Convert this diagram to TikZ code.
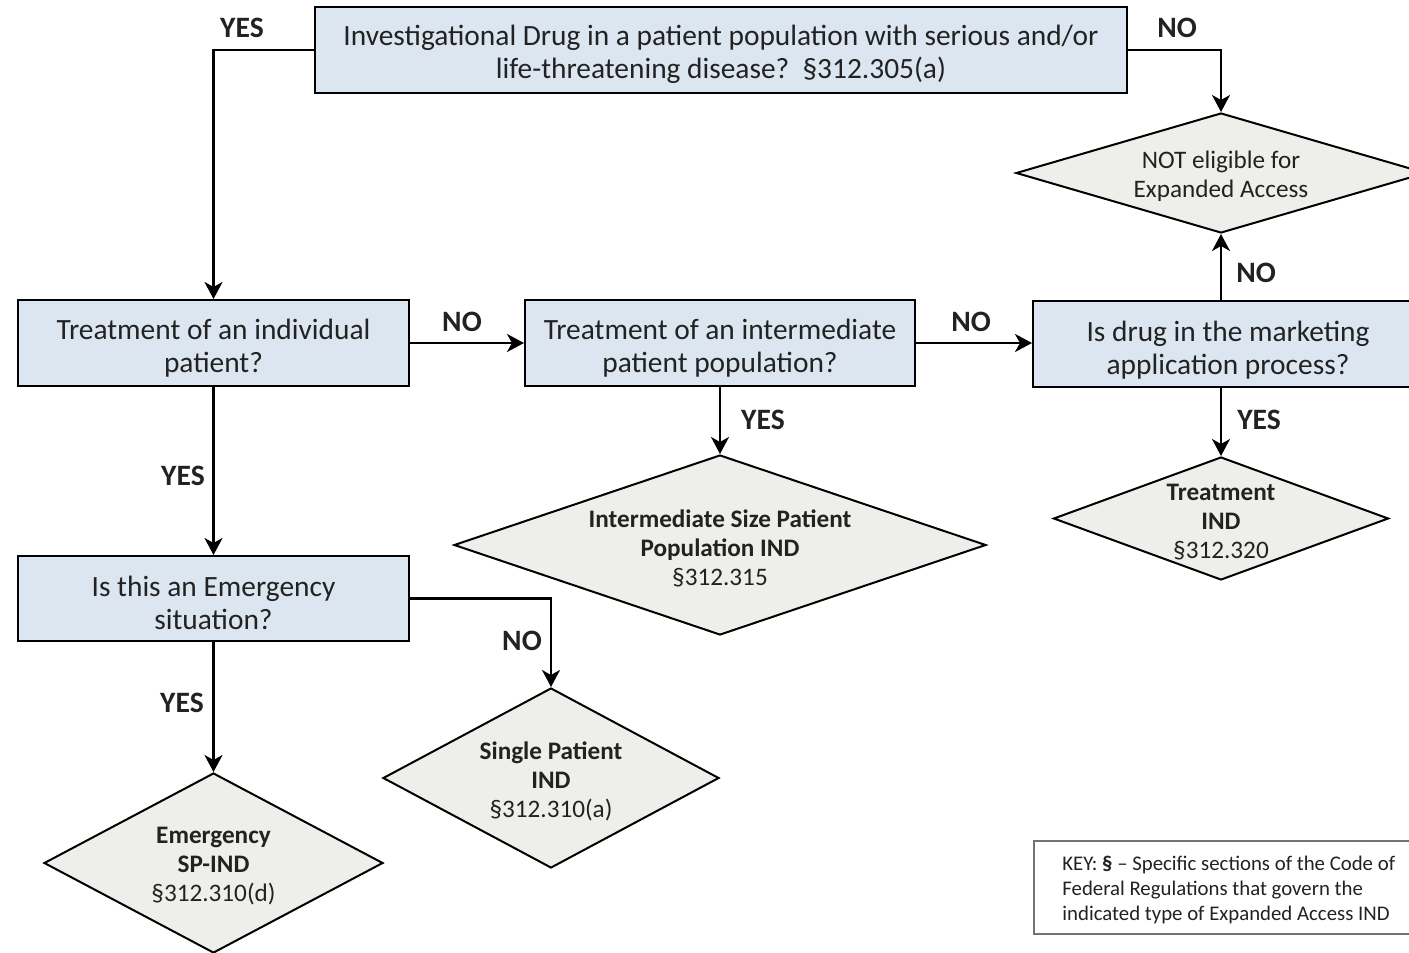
\documentclass[tikz,border=0pt]{standalone}
\usepackage{fontspec}
\setmainfont{Carlito}
\usetikzlibrary{arrows.meta,shapes.geometric}
\definecolor{boxfill}{HTML}{DCE6F1}
\definecolor{diafill}{HTML}{EEEFEA}
\definecolor{txt}{HTML}{222222}
\begin{document}
\begin{tikzpicture}[x=0.5pt,y=-0.5pt,
  qbox/.style={draw=black, line width=1pt, fill=boxfill, inner sep=0pt, minimum height=43pt},
  dia/.style={diamond, draw=black, line width=1pt, fill=diafill, inner sep=0pt, aspect=1},
  qtext/.style={align=center, text=txt, font=\fontsize{14.7}{16.5}\selectfont},
  dtext/.style={align=center, text=txt, font=\fontsize{12.6}{14.5}\selectfont},
  lab/.style={text=txt, font=\fontsize{14.8}{16}\selectfont\bfseries},
  arr/.style={line width=1.2pt, -{Stealth[length=8.5pt,width=9pt,inset=2.5pt]}}]
\useasboundingbox (0,0) rectangle (1409,953);
\clip (0,0) rectangle (1409,953);

% question boxes
\node[qbox, minimum width=406pt] (top) at (721,50) {};
\node[qtext] (toptxt) at (721,54) {Investigational Drug in a patient population with serious and/or\\life-threatening disease?~~§312.305(a)};
\node[qbox, minimum width=195.5pt] (ind) at (213.5,343) {};
\node[qtext] (indtxt) at (213.5,348) {Treatment of an individual\\patient?};
\node[qbox, minimum width=195pt] (inter) at (720,343) {};
\node[qtext] (intertxt) at (720,348) {Treatment of an intermediate\\patient population?};
\node[qbox, minimum width=195pt] (mkt) at (1228,344) {};
\node[qtext] (mkttxt) at (1228,350) {Is drug in the marketing\\application process?};
\node[qbox, minimum width=195.5pt, minimum height=42.5pt] (emerg) at (213.5,598.5) {};
\node[qtext] (emergtxt) at (213.5,603) {Is this an Emergency\\situation?};

% outcome diamonds
\node[dia, minimum width=205pt, minimum height=60pt] (notel) at (1221,173) {};
\node[dtext] (noteltxt) at (1221,176) {NOT eligible for\\Expanded Access};
\node[dia, minimum width=266pt, minimum height=90pt] (interD) at (720,545) {};
\node[dtext] (interDtxt) at (720,548) {\textbf{Intermediate Size Patient}\\\textbf{Population IND}\\§312.315};
\node[dia, minimum width=167.5pt, minimum height=61.5pt] (treatD) at (1221,518.5) {};
\node[dtext] (treatDtxt) at (1221,522) {\textbf{Treatment}\\\textbf{IND}\\§312.320};
\node[dia, minimum width=168pt, minimum height=90pt] (singleD) at (551,778) {};
\node[dtext] (singleDtxt) at (551,781) {\textbf{Single Patient}\\\textbf{IND}\\§312.310(a)};
\node[dia, minimum width=169.5pt, minimum height=90pt] (emD) at (213.5,863) {};
\node[dtext] (emDtxt) at (213.5,866) {\textbf{Emergency}\\\textbf{SP-IND}\\§312.310(d)};

% key
\node[draw=black!55, line width=0.6pt, fill=white, minimum width=193pt, minimum height=46.5pt, inner sep=0pt] (key) at (1227,887.5) {};
\node[align=left, anchor=west, text=txt, font=\fontsize{10.4}{12.5}\selectfont, inner sep=0pt] (keytxt) at (1062,890) {KEY: \textbf{§} -- Specific sections of the Code of\\Federal Regulations that govern the\\indicated type of Expanded Access IND};

% connectors
\draw[arr] (top.west) -| (ind.north);
\draw[arr] (top.east) -| (notel.north);
\draw[arr] (ind.east) -- (inter.west);
\draw[arr] (inter.east) -- (inter.east -| mkt.west);
\draw[arr] (notel.south |- mkt.north) -- (notel.south);
\draw[arr] (treatD.north |- mkt.south) -- (treatD.north);
\draw[arr] (inter.south) -- (interD.north);
\draw[arr] (ind.south) -- (emerg.north);
\draw[arr] (emerg.east) -| (singleD.north);
\draw[arr] (emerg.south) -- (emD.north);

% labels
\node[lab] (l1) at (242,28) {YES};
\node[lab] (l2) at (1177,28) {NO};
\node[lab] (l3) at (462,322) {NO};
\node[lab] (l4) at (971,322) {NO};
\node[lab] (l5) at (1256,273) {NO};
\node[lab] (l6) at (1259,420) {YES};
\node[lab] (l7) at (763,420) {YES};
\node[lab] (l8) at (183,476) {YES};
\node[lab] (l9) at (522,641) {NO};
\node[lab] (l10) at (182,703) {YES};
\end{tikzpicture}
\end{document}
